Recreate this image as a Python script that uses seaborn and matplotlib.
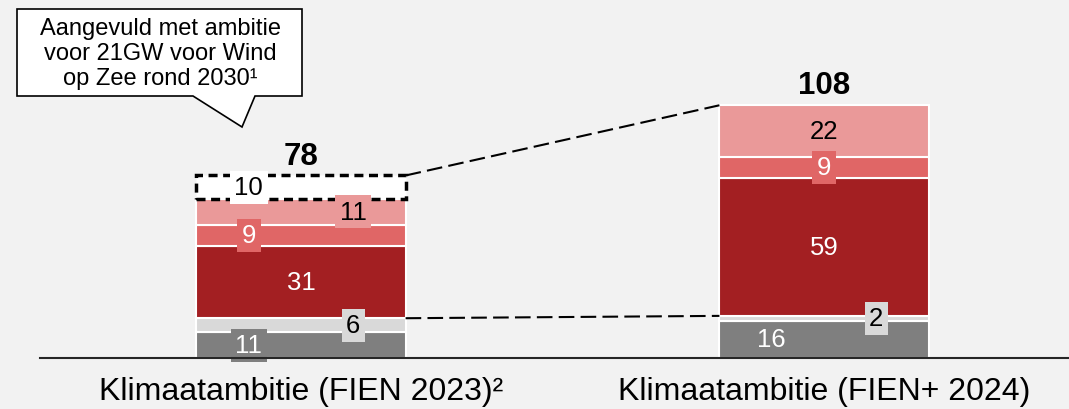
import matplotlib
matplotlib.use("Agg")
import matplotlib.pyplot as plt
from matplotlib.patches import Polygon
import seaborn as sns
import numpy as np

# ---- data ----
categories = ["Klimaatambitie (FIEN 2023)²", "Klimaatambitie (FIEN+ 2024)"]
seg_grey = [11, 16]
seg_lightgrey = [6, 2]
seg_darkred = [31, 59]
seg_red = [9, 9]
seg_pink = [11, 22]
seg_wind_extra = [10, 0]
callout_text = "Aangevuld met ambitie\nvoor 21GW voor Wind\nop Zee rond 2030¹"

# ---- style ----
BG = "#f2f2f2"
layers = [
    (seg_grey, "#7f7f7f", "white", [-1, -1]),
    (seg_lightgrey, "#d9d9d9", "black", [1, 1]),
    (seg_darkred, "#a31f22", "white", [0, 0]),
    (seg_red, "#e06666", "white", [-1, 0]),
    (seg_pink, "#ea9999", "black", [1, 0]),
]
BAR_W = 0.4
LABEL_OFF = 0.1
LBL_FS = 18.5

sns.set_theme(style="white")
plt.rcParams["font.family"] = ["Liberation Sans", "DejaVu Sans"]

fig = plt.figure(figsize=(10.69, 4.10), dpi=100, facecolor=BG)
W, H = 1069, 410
base_px = 359
ax = fig.add_axes([40 / W, (H - base_px) / H, 1 - 40 / W, base_px / H])
ax.set_facecolor(BG)

bottom = np.zeros(len(categories))
for vals, col, tcol, offs in layers:
    sns.barplot(x=categories, y=vals, bottom=bottom, color=col, saturation=1,
                width=BAR_W, edgecolor="white", linewidth=1.5, errorbar=None,
                ax=ax, zorder=2)
    for i, v in enumerate(vals):
        if v <= 0:
            continue
        ax.text(i + offs[i] * LABEL_OFF, bottom[i] + v / 2, str(v),
                ha="center", va="center", fontsize=LBL_FS, color=tcol, zorder=5,
                bbox=dict(boxstyle="square,pad=0.18", facecolor=col, edgecolor="none"))
    bottom = bottom + np.array(vals)

base_layer_top = np.array(seg_grey) + np.array(seg_lightgrey)

# extra wind ambition (dashed white box)
n_before = len(ax.patches)
sns.barplot(x=categories, y=seg_wind_extra, bottom=bottom, color="white", saturation=1,
            width=BAR_W, edgecolor="black", linewidth=2.5, linestyle=(0, (2.6, 1.6)),
            errorbar=None, ax=ax, zorder=2)
for p in list(ax.patches[n_before:]):
    if p.get_height() == 0:
        p.remove()
for i, v in enumerate(seg_wind_extra):
    if v > 0:
        ax.text(i - LABEL_OFF, bottom[i] + v / 2, str(v), ha="center", va="center",
                fontsize=LBL_FS, color="black", zorder=5,
                bbox=dict(boxstyle="square,pad=0.18", facecolor="white", edgecolor="none"))
totals = bottom + np.array(seg_wind_extra)

# totals
for i, t in enumerate(totals):
    ax.text(i, t + 8.5, f"{int(t)}", ha="center", va="center", fontsize=22.5,
            fontweight="bold", color="black", zorder=5)

# connecting dashed lines
x0, x1 = 0 + BAR_W / 2, 1 - BAR_W / 2
ax.plot([x0, x1], [totals[0], totals[1]], color="black", lw=1.5,
        linestyle=(0, (7.5, 3)), zorder=3)
ax.plot([x0, x1], [base_layer_top[0], base_layer_top[1]], color="black", lw=1.5,
        linestyle=(0, (7.5, 3)), zorder=3)

ax.set_xlim((40 - 301) / 523, (1069 - 301) / 523)
ax.set_ylim(0, base_px / 2.34)
for s in ["left", "right", "top"]:
    ax.spines[s].set_visible(False)
ax.spines["bottom"].set_color("#262626")
ax.spines["bottom"].set_linewidth(1.5)
ax.spines["bottom"].set_zorder(6)
ax.set_yticks([])
ax.set_xlabel("")
ax.set_ylabel("")
ax.tick_params(axis="x", length=0, pad=13, labelsize=23, colors="black")

# callout
def fp(x, y):
    return (x / W, 1 - y / H)

pts = [fp(17, 10), fp(302, 10), fp(302, 97), fp(255, 97), fp(242, 128), fp(193, 97), fp(17, 97)]
fig.patches.append(Polygon(pts, closed=True, facecolor="white", edgecolor="black",
                           linewidth=1.2, transform=fig.transFigure, zorder=10))
fig.text(*fp(160, 54), callout_text, ha="center", va="center", fontsize=17,
         linespacing=1.2, color="black", zorder=11)

fig.savefig("out.png", dpi=100, facecolor=BG)
